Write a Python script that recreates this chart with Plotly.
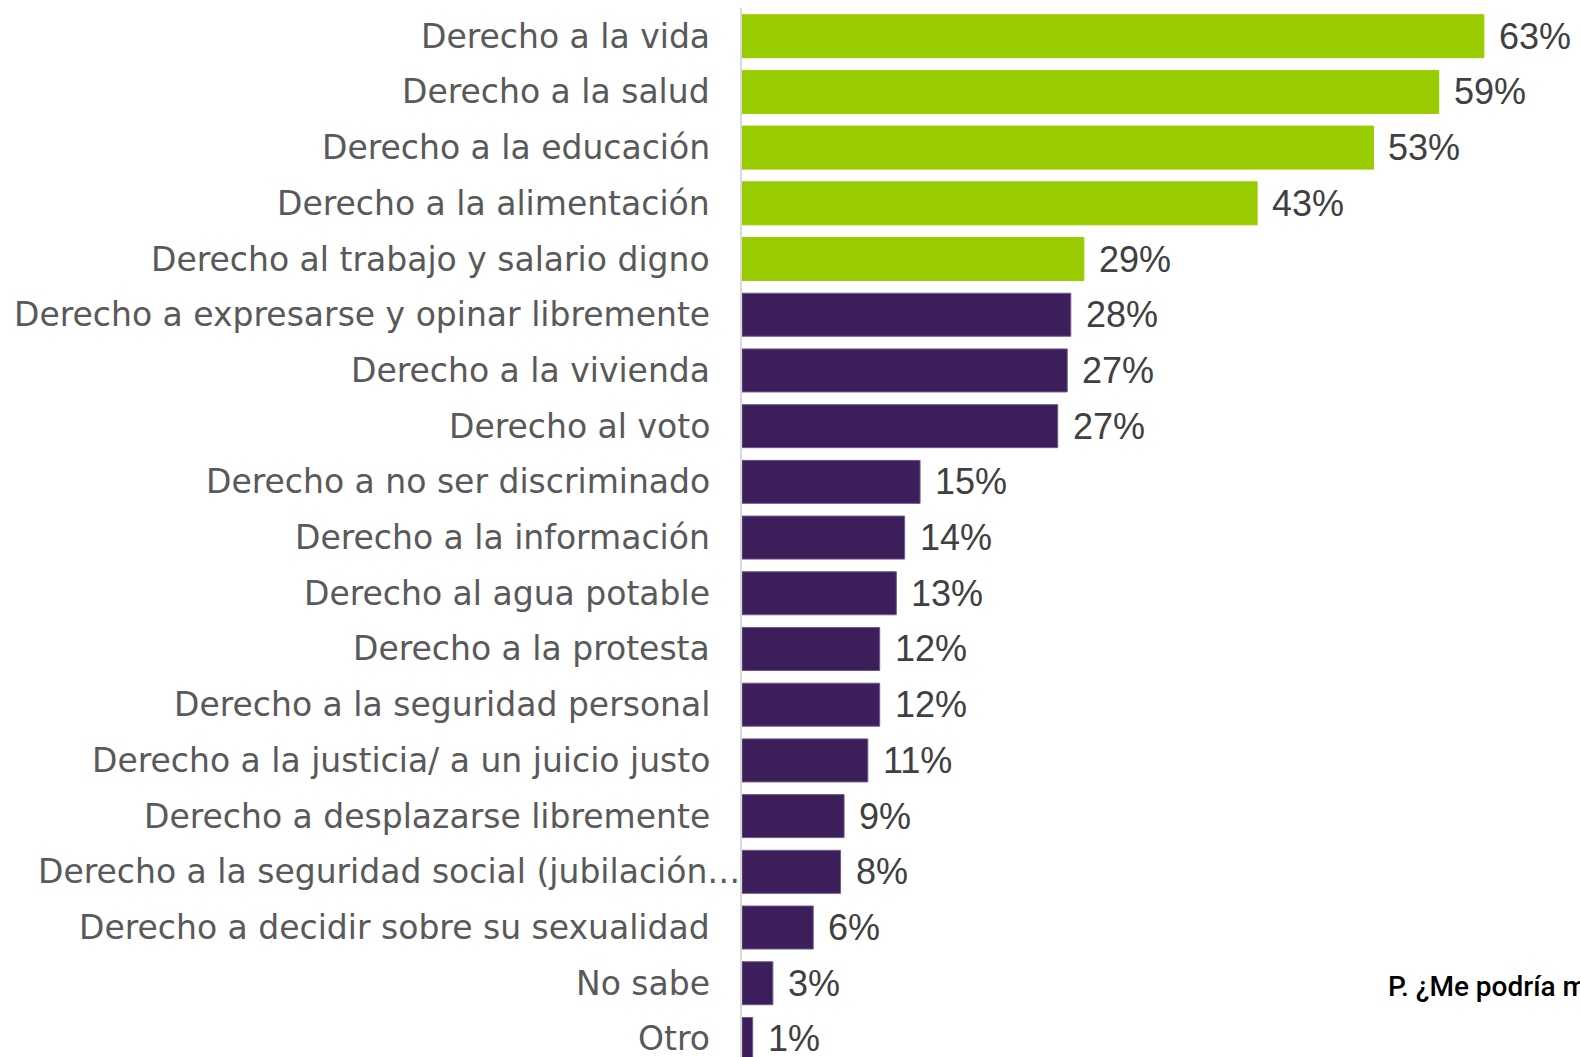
import plotly.graph_objects as go

categories = [
    "Derecho a la vida",
    "Derecho a la salud",
    "Derecho a la educación",
    "Derecho a la alimentación",
    "Derecho al trabajo y salario digno",
    "Derecho a expresarse y opinar libremente",
    "Derecho a la vivienda",
    "Derecho al voto",
    "Derecho a no ser discriminado",
    "Derecho a la información",
    "Derecho al agua potable",
    "Derecho a la protesta",
    "Derecho a la seguridad personal",
    "Derecho a la justicia/ a un juicio justo",
    "Derecho a desplazarse libremente",
    "Derecho a la seguridad social (jubilación…",
    "Derecho a decidir sobre su sexualidad",
    "No sabe",
    "Otro",
]
values = [62.5, 58.7, 53.2, 43.4, 28.8, 27.7, 27.4, 26.6, 15.0, 13.7, 13.0,
          11.6, 11.6, 10.6, 8.6, 8.3, 6.0, 2.6, 0.9]
question = "P. ¿Me podría mencionar"

GREEN = "#99CC00"
PURPLE = "#3C1F5A"
n_top = 5
colors = [GREEN if i < n_top else PURPLE for i in range(len(values))]
line_colors = [GREEN if i < n_top else "#6E5A8C" for i in range(len(values))]
labels = [f"{int(v + 0.5)}%" for v in values]

fig = go.Figure(go.Bar(
    x=values, y=categories, orientation="h",
    marker=dict(color=colors, line=dict(color=line_colors, width=1)),
    hoverinfo="skip",
))

annotations = []
for cat, v, lab in zip(categories, values, labels):
    annotations.append(dict(
        x=v, y=cat, xref="x", yref="y", text=lab, showarrow=False,
        xanchor="left", yanchor="middle", xshift=13,
        font=dict(family="Liberation Sans, Arial, sans-serif", size=36, color="#404040"),
    ))
    annotations.append(dict(
        x=0, y=cat, xref="paper", yref="y", text=cat, showarrow=False,
        xanchor="right", yanchor="middle",
        xshift=(0 if cat.endswith("…") else -30),
        font=dict(family="DejaVu Sans, sans-serif", size=33, color="#595959"),
    ))

annotations.append(dict(
    x=(1386 - 742) / 838, y=(1057 - 986) / 1049, xref="paper", yref="paper",
    text=question, showarrow=False, xanchor="left", yanchor="middle",
    font=dict(family="Roboto, sans-serif", size=28, color="#000000", weight=500),
))

fig.update_layout(
    width=1580, height=1057,
    margin=dict(l=742, r=0, t=8, b=0),
    paper_bgcolor="white", plot_bgcolor="white",
    bargap=0.228,
    showlegend=False,
    annotations=annotations,
    xaxis=dict(range=[0, 70.6], visible=False, fixedrange=True),
    yaxis=dict(
        type="category", categoryorder="array", categoryarray=categories,
        range=[18.324, -0.506], showticklabels=False, ticks="",
        showgrid=False, zeroline=False,
        showline=True, linecolor="#D9D9D9", linewidth=2, fixedrange=True,
    ),
)

fig.write_html("out.html", config={"displayModeBar": False},
               post_script="document.body.style.margin='0';document.body.style.overflow='hidden';")
